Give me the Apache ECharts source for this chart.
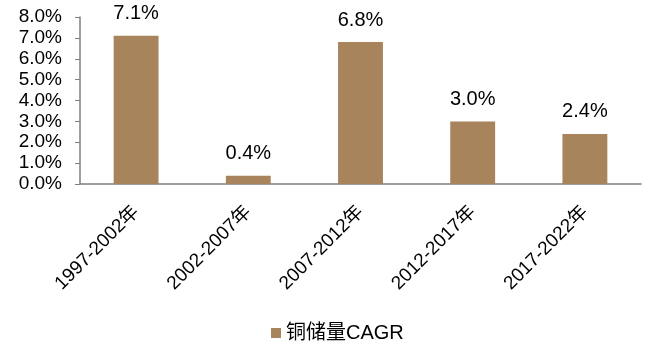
<!DOCTYPE html>
<html>
<head>
<meta charset="utf-8">
<script src="https://cdn.jsdelivr.net/npm/echarts@6/dist/echarts.min.js"></script>
<style>
  html, body { margin: 0; padding: 0; background: #fff; }
  #chart { width: 649px; height: 356px; }
</style>
</head>
<body>
<div id="chart"></div>
<script>
// Copper reserves compound annual growth rate by five-year period
const periods = ['1997-2002年', '2002-2007年', '2007-2012年', '2012-2017年', '2017-2022年'];
const cagr = [7.1, 0.4, 6.8, 3.0, 2.4];
const seriesName = '铜储量CAGR';

const font = '"Liberation Sans", Arial, "Noto Sans CJK SC", sans-serif';
const axisColor = '#7f7f7f';

const chart = echarts.init(document.getElementById('chart'));
chart.setOption({
  animation: false,
  grid: { left: 80, right: 8, top: 17, bottom: 172 },
  legend: {
    bottom: 8,
    left: 266,
    itemWidth: 10,
    itemHeight: 10,
    icon: 'rect',
    itemGap: 8,
    textStyle: { fontFamily: font, fontSize: 20, color: '#000' },
    data: [seriesName]
  },
  xAxis: {
    type: 'category',
    data: periods,
    axisLine: { lineStyle: { color: axisColor, width: 1.5 } },
    axisTick: { inside: true, length: 5, alignWithLabel: false, lineStyle: { color: axisColor } },
    axisLabel: {
      rotate: 45,
      interval: 0,
      margin: 25,
      fontFamily: font,
      fontSize: 19,
      color: '#000'
    }
  },
  yAxis: {
    type: 'value',
    min: 0,
    max: 8,
    interval: 1,
    splitLine: { show: false },
    axisLine: { show: true, lineStyle: { color: axisColor, width: 1.5 } },
    axisTick: { show: true, length: 5, lineStyle: { color: axisColor } },
    axisLabel: {
      margin: 18,
      fontFamily: font,
      fontSize: 19,
      color: '#000',
      formatter: v => v.toFixed(1) + '%'
    }
  },
  series: [{
    name: seriesName,
    type: 'bar',
    data: cagr,
    barWidth: '40%',
    itemStyle: { color: '#A8845C' },
    label: {
      show: true,
      position: 'top',
      distance: 12,
      fontFamily: font,
      fontSize: 20,
      color: '#000',
      formatter: p => p.value.toFixed(1) + '%'
    }
  }]
});
</script>
</body>
</html>
